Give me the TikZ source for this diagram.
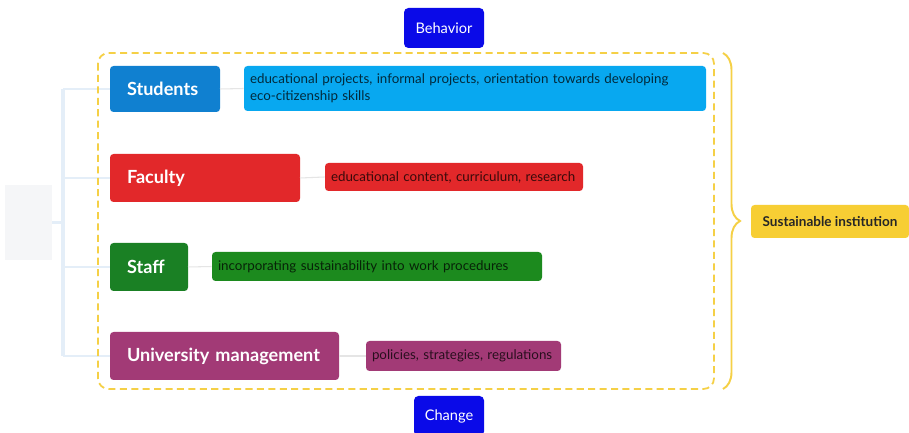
\documentclass[tikz,border=0pt]{standalone}
\usepackage{fontspec}
\setmainfont{Lato}
\usepackage{tikz}
\usetikzlibrary{decorations.pathreplacing,positioning}
\definecolor{actorblue}{RGB}{16,128,208}
\definecolor{noteblue}{RGB}{8,168,240}
\definecolor{actorred}{RGB}{226,40,42}
\definecolor{actorgreen}{RGB}{26,128,36}
\definecolor{notegreen}{RGB}{28,138,30}
\definecolor{actorplum}{RGB}{162,58,118}
\definecolor{pureblue}{RGB}{10,10,232}
\definecolor{goldline}{RGB}{245,208,70}
\definecolor{goldfill}{RGB}{247,206,52}
\definecolor{branchline}{RGB}{228,238,248}
\definecolor{rootgray}{RGB}{245,246,248}
\tikzset{
  actor/.style={line width=0pt, rounded corners=2pt, inner xsep=0.34cm,
                inner ysep=0pt, align=left, text=white,
                font=\fontsize{10.3}{12}\selectfont\bfseries},
  note/.style={rounded corners=2pt, inner xsep=0.12cm, inner ysep=0pt,
               align=left, text=black, text opacity=0.75,
               font={\fontsize{7.6}{9.8}\selectfont\hyphenpenalty=10000\relax}},
  pole/.style={fill=pureblue, rounded corners=2.5pt, text=white,
               minimum height=0.8cm, inner sep=0pt,
               font=\fontsize{8.3}{9}\selectfont},
  link/.style={draw=black!10, line width=0.6pt},
  branch/.style={draw=branchline, line width=0.9pt},
}

\begin{document}
\begin{tikzpicture}[x=1cm,y=1cm]
  \path[use as bounding box, fill=white] (0,0) rectangle (18.18,8.66);

  % root of the tree and its branches
  \node[fill=rootgray, minimum width=0.94cm, minimum height=1.5cm,
        inner sep=0pt] (root) at (0.57,4.21) {};
  \coordinate (trunk) at (1.26,4.21);

  \node[actor, fill=actorblue, text width=1.52cm, minimum height=0.92cm]
    (students) at (3.30,6.88) {Students};
  \node[actor, fill=actorred, text width=3.12cm, minimum height=0.96cm]
    (faculty) at (4.10,5.10) {Faculty};
  \node[actor, fill=actorgreen, text width=0.88cm, minimum height=0.96cm]
    (staff) at (2.98,3.32) {Staff};
  \node[actor, fill=actorplum, text width=3.90cm, minimum height=0.96cm]
    (management) at (4.49,1.54) {University management};

  \draw[branch, line width=1.4pt] (root.east) -- (trunk);
  \draw[branch, line width=2pt] (trunk |- students.west) -- (trunk |- management.west);
  \foreach \n in {students,faculty,staff,management}
    \draw[branch] (trunk |- \n.west) -- (\n.west);

  \node[note, fill=noteblue, text width=9.0cm, minimum height=0.9cm]
    (studentsnote) at (9.50,6.89)
    {educational projects, informal projects, orientation towards developing\\
     eco-citizenship skills};
  \node[note, fill=actorred, text width=4.92cm, minimum height=0.56cm]
    (facultynote) at (9.08,5.12) {educational content, curriculum, research};
  \node[note, fill=notegreen, text width=6.36cm, minimum height=0.58cm]
    (staffnote) at (7.54,3.33) {incorporating sustainability into work procedures};
  \node[note, fill=actorplum, text width=3.66cm, minimum height=0.6cm]
    (managementnote) at (9.27,1.54) {policies, strategies, regulations};

  \foreach \n in {students,faculty,staff,management}
    \draw[link] (\n.east) -- (\n note.west);

  % frame, brace and the outcome
  \draw[goldline, line width=1pt, dash pattern=on 4pt off 2.5pt,
        rounded corners=6pt] (1.96,7.60) rectangle (14.28,0.88);

  \node[pole, minimum width=1.6cm] (behavior) at (8.88,8.10) {Behavior};
  \node[pole, minimum width=1.4cm] (change) at (8.98,0.34) {Change};

  \coordinate (bracetop) at (14.46,7.60);
  \coordinate (bracebottom) at (14.46,0.88);
  \draw[goldline, line width=1.1pt,
        decorate, decoration={brace, amplitude=0.34cm}]
    (bracetop) -- (bracebottom);
  \node[fill=goldfill, rounded corners=2pt, minimum width=3.16cm,
        minimum height=0.66cm, inner sep=0pt, text=black!85,
        font=\fontsize{7.7}{9}\selectfont\bfseries]
    (institution) at (16.60,4.23) {Sustainable institution};
\end{tikzpicture}
\end{document}
